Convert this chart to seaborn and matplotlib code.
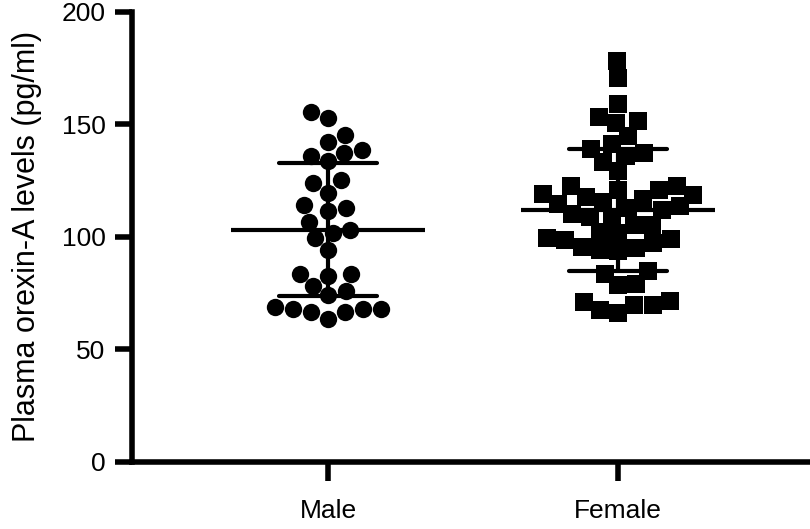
import numpy as np
import pandas as pd
import seaborn as sns
import matplotlib.pyplot as plt

# values (pg/ml)
male = [153.0, 155.6, 145.2, 142.0, 138.6, 136.1, 133.5, 137.1, 125.1, 123.7,
        119.5, 114.1, 111.6, 112.6, 106.7, 103.1, 101.6, 99.4, 94.0, 83.6,
        82.8, 83.3, 78.1, 75.9, 74.0, 69.0, 67.8, 66.4, 63.7, 66.7, 67.8, 68.1]
female = [178.3, 170.6, 158.9, 153.3, 150.4, 151.5, 144.9, 141.3, 139.1, 136.1,
          137.1, 133.2, 129.1, 122.6, 121.0, 121.0, 122.6, 118.5, 118.9, 117.0,
          114.8, 111.9, 108.9, 105.3, 105.3, 108.9, 112.6, 115.6, 117.8, 110.0,
          113.5, 101.6, 102.3, 99.0, 97.2, 95.0, 93.5, 94.0, 95.7, 98.7, 99.4,
          84.7, 83.6, 78.9, 78.4, 71.1, 69.6, 66.1, 67.5, 69.6, 71.5]
groups = ['Male', 'Female']
yticks = [0, 50, 100, 150, 200]

df = pd.DataFrame({
    'sex': ['Male'] * len(male) + ['Female'] * len(female),
    'value': male + female,
})

sns.set_style('ticks', {'axes.edgecolor': 'black', 'text.color': 'black',
                        'axes.labelcolor': 'black', 'xtick.color': 'black',
                        'ytick.color': 'black'})
plt.rcParams['font.family'] = ['Liberation Sans', 'DejaVu Sans']

fig = plt.figure(figsize=(8.1, 5.29), dpi=100)
ax = fig.add_axes([0.163, 0.1267, 0.837, 0.8512])

sns.swarmplot(data=df[df.sex == 'Male'], x='sex', y='value', order=groups,
              color='black', marker='o', size=12.5, ax=ax, clip_on=False)
sns.swarmplot(data=df[df.sex == 'Female'], x='sex', y='value', order=groups,
              color='black', marker='s', size=12.5, ax=ax, clip_on=False)

# mean line with SD whiskers
sns.pointplot(data=df, x='sex', y='value', order=groups, errorbar='sd',
              color='black', markers='_', markersize=140, markeredgewidth=3,
              linestyle='none', capsize=0.34, err_kws={'linewidth': 3}, ax=ax)

ax.set_ylim(0, 200)
ax.set_xlim(-0.676, 1.662)
ax.set_yticks(yticks)
ax.set_xlabel('')
ax.set_ylabel('Plasma orexin-A levels (pg/ml)', fontsize=22, labelpad=14)
ax.tick_params(axis='y', labelsize=19, width=4, length=12, pad=7)
ax.tick_params(axis='x', labelsize=19, width=4, length=14, pad=13)
for side in ['top', 'right']:
    ax.spines[side].set_visible(False)
for side in ['left', 'bottom']:
    ax.spines[side].set_linewidth(4)

fig.savefig('out.png', dpi=100)
